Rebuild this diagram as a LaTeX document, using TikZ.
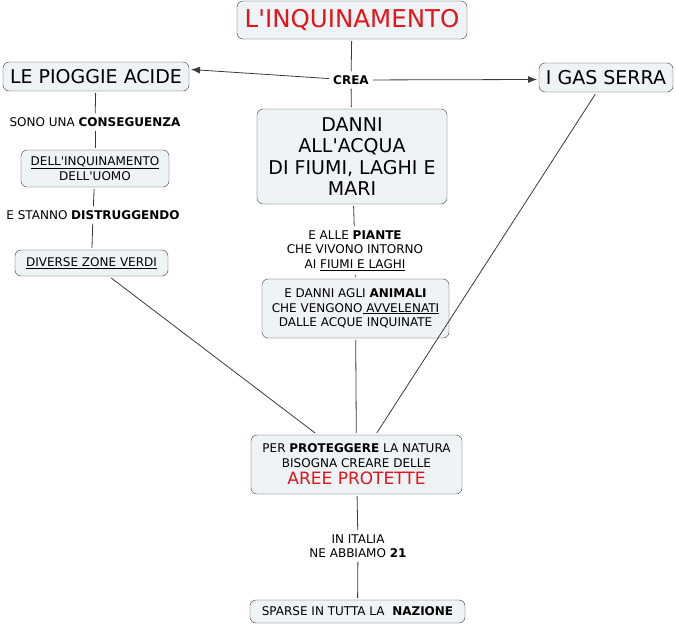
\documentclass[tikz,border=0pt]{standalone}
\usepackage{fontspec}
\setmainfont{DejaVu Sans}[Ligatures=TeXOff]
\usetikzlibrary{arrows.meta,positioning}
\definecolor{boxfill}{HTML}{EEF3F5}
\definecolor{linegray}{HTML}{3A3A3A}
\definecolor{titlered}{HTML}{E4141B}
\newcommand{\smalltext}{\fontsize{12}{14.5}\selectfont}
\newcommand{\bigtext}{\fontsize{19}{21.5}\selectfont}
\tikzset{%
	concept/.style   = {draw=linegray, fill=boxfill, rectangle, rounded corners=6pt, align=center, outer sep=2pt, inner sep=2pt, font=\smalltext}, % box
	bigconcept/.style= {concept, font=\bigtext}, % box with big text
	linklabel/.style = {fill=white, rectangle, align=center, inner sep=4pt, font=\smalltext}, % text on a link
	link/.style      = {draw=linegray, line width=0.8pt},
	arrowlink/.style = {link, -{Latex[length=9pt,width=7pt]}},
}

\begin{document}
\begin{tikzpicture}[x=1pt,y=-1pt]
	\useasboundingbox (0,0) rectangle (676,627);
	% top row
	\node [concept,minimum width=230pt,minimum height=38pt,text=titlered,font=\fontsize{24.5}{28}\selectfont] (inq) at (352,20) {L'INQUINAMENTO};
	\node [bigconcept,minimum width=186pt,minimum height=29pt] (piogge) at (96,76.5) {LE PIOGGIE ACIDE};
	\node [bigconcept,minimum width=134pt,minimum height=29pt] (gas) at (606,77.5) {I GAS SERRA};
	\node [linklabel,font=\smalltext\bfseries] (crea) at (351,80) {CREA};
	
	% left column
	\node [linklabel] (conseg) at (95,122) {SONO UNA \textbf{CONSEGUENZA}};
	\node [concept,minimum width=148pt,minimum height=37pt] (uomo) at (95,168.5) {\underline{DELL'INQUINAMENTO}\\DELL'UOMO};
	\node [linklabel] (distr) at (93,215) {E STANNO \textbf{DISTRUGGENDO}};
	\node [concept,minimum width=153pt,minimum height=26pt] (zone) at (91.5,263) {\underline{DIVERSE ZONE VERDI}};
	
	% middle column
	\node [bigconcept,minimum width=190pt,minimum height=95pt] (danni) at (352,156.5) {DANNI\\ALL'ACQUA\\DI FIUMI, LAGHI E\\MARI};
	\node [linklabel] (piante) at (355,250.5) {E ALLE \textbf{PIANTE}\\CHE VIVONO INTORNO\\AI \underline{FIUMI E LAGHI}};
	\node [concept,minimum width=187pt,minimum height=59pt] (animali) at (355.5,308.5) {E DANNI AGLI \textbf{ANIMALI}\\CHE VENGONO\underline{\ AVVELENATI}\\DALLE ACQUE INQUINATE};
	\node [concept,minimum width=211pt,minimum height=59pt] (proteg) at (356.5,464.5) {PER \textbf{PROTEGGERE} LA NATURA\\BISOGNA CREARE DELLE\\[3pt]{\color{titlered}\fontsize{17}{19}\selectfont AREE PROTETTE}};
	\node [linklabel] (italia) at (358,546) {IN ITALIA\\NE ABBIAMO \textbf{21}};
	\node [concept,minimum width=215pt,minimum height=23pt] (sparse) at (357.5,611.5) {SPARSE IN TUTTA LA\ \ \textbf{NAZIONE}};
	
	\draw [link] (inq) -- (crea);
	\draw [link] (crea) -- (danni);
	\draw [arrowlink] (crea) -- ([yshift=7pt]piogge.east);
	\draw [arrowlink] (crea) -- ([yshift=-2pt]gas.west);
	\draw [link] (piogge) -- (conseg);
	\draw [link] (conseg) -- (uomo);
	\draw [link] (uomo) -- (distr);
	\draw [link] (distr) -- (zone);
	\draw [link] (danni) -- (piante);
	\draw [link] (piante) -- (animali);
	\draw [link] (zone) -- (proteg);
	\draw [link] (animali) -- (proteg);
	\draw [link] (gas) -- (proteg);
	\draw [link] (proteg) -- (italia);
	\draw [link] (italia) -- (sparse);
\end{tikzpicture}
\end{document}
